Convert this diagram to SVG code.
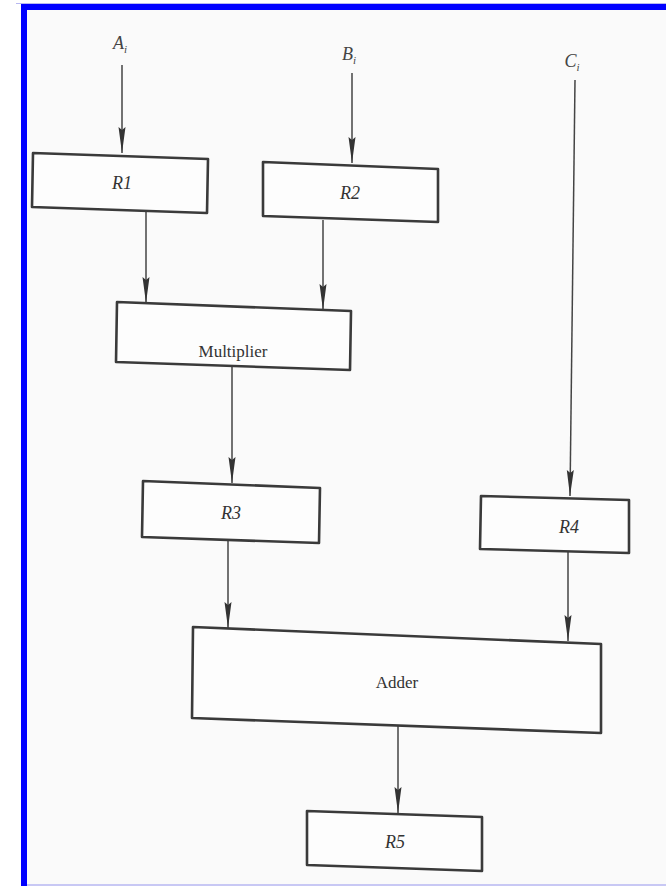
<svg xmlns="http://www.w3.org/2000/svg" width="666" height="886" viewBox="0 0 666 886">
<style>
.box{fill:#fdfdfd;stroke:#3a3a3a;stroke-width:2.6;stroke-linejoin:round}
.reg{font-family:"Liberation Serif",serif;font-style:italic;font-size:18px;fill:#333;text-anchor:middle}
.lbl{font-family:"Liberation Serif",serif;font-size:17px;fill:#333;text-anchor:middle}
.in{font-family:"Liberation Serif",serif;font-style:italic;font-size:18px;fill:#444;text-anchor:middle}
</style>
<defs>
<marker id="arr" viewBox="0 0 26 8" refX="26" refY="4" markerWidth="26" markerHeight="8" markerUnits="userSpaceOnUse" orient="auto">
<path d="M0,0.5 L26,4 L0,7.5 L3,4 Z" fill="#333"/>
</marker>
</defs>
<rect x="0" y="0" width="666" height="886" fill="#ffffff"/>
<rect x="21" y="3" width="645" height="883" fill="#fafafa"/>
<rect x="16" y="3" width="650" height="1" fill="#b8b8f0"/>
<rect x="21" y="4" width="645" height="6" fill="#0000ff"/>
<rect x="21" y="4" width="6" height="882" fill="#0000ff"/>
<rect x="27" y="884" width="639" height="2" fill="#c8c8f4"/>

<g id="inputs">
<text class="in" x="120" y="49">A<tspan font-size="11" dy="4">i</tspan></text>
<text class="in" x="349" y="60">B<tspan font-size="11" dy="4">i</tspan></text>
<text class="in" x="572" y="67">C<tspan font-size="11" dy="4">i</tspan></text>
</g>

<g id="connectors" style="stroke:#444;stroke-width:1.5;fill:none">
<line x1="122" y1="65" x2="122" y2="153" marker-end="url(#arr)"/>
<line x1="352" y1="73" x2="352" y2="163" marker-end="url(#arr)"/>
<line x1="575" y1="80" x2="570" y2="496" marker-end="url(#arr)"/>
<line x1="146" y1="210" x2="146" y2="303" marker-end="url(#arr)"/>
<line x1="323" y1="220" x2="323" y2="310" marker-end="url(#arr)"/>
<line x1="232" y1="366" x2="232" y2="483" marker-end="url(#arr)"/>
<line x1="228" y1="540" x2="228" y2="628" marker-end="url(#arr)"/>
<line x1="568" y1="551" x2="568" y2="641" marker-end="url(#arr)"/>
<line x1="398" y1="726" x2="398" y2="813" marker-end="url(#arr)"/>
</g>

<g id="R1">
<polygon class="box" points="33,153 208,159 207,213 32,207"/>
<text class="reg" x="122" y="189">R1</text>
</g>
<g id="R2">
<polygon class="box" points="263,162 438,169 438,222 263,216"/>
<text class="reg" x="350" y="199">R2</text>
</g>
<g id="Multiplier">
<polygon class="box" points="117,302 351,311 350,370 116,362"/>
<text class="lbl" x="233" y="357">Multiplier</text>
</g>
<g id="R3">
<polygon class="box" points="143,481 320,488 319,543 142,537"/>
<text class="reg" x="231" y="519">R3</text>
</g>
<g id="R4">
<polygon class="box" points="481,496 629,500 629,553 480,549"/>
<text class="reg" x="569" y="533">R4</text>
</g>
<g id="Adder">
<polygon class="box" points="193,627 601,644 601,733 192,718"/>
<text class="lbl" x="397" y="688">Adder</text>
</g>
<g id="R5">
<polygon class="box" points="307,811 482,817 482,871 307,865"/>
<text class="reg" x="395" y="848">R5</text>
</g>
</svg>
